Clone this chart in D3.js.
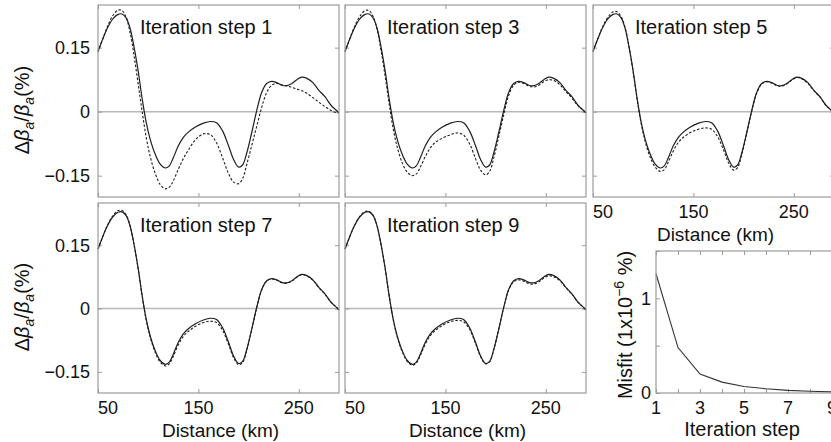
<!DOCTYPE html>
<html>
<head>
<meta charset="utf-8">
<script src="https://cdn.jsdelivr.net/npm/d3@7"></script>
<style>
  body { margin: 0; background: #fff; }
  svg { display: block; font-family: "Liberation Sans", Arial, Helvetica, sans-serif; }
</style>
</head>
<body>
<svg id="chart" width="831" height="442"></svg>
<script>
// distance grid shared by every profile (km)
var distanceKm = [50, 55, 60, 65, 70, 74, 78, 82, 86, 90, 94, 98, 102, 107, 112, 117, 121, 125, 130, 135,
  140, 147, 155, 162, 168, 174, 180, 185, 190, 194, 198, 203, 208, 213, 218, 223, 228, 233, 238, 243,
  248, 253, 258, 264, 270, 276, 282, 287, 290];

// true model (solid line)
var trueModel = [0.141, 0.172, 0.199, 0.218, 0.228, 0.229, 0.220, 0.195, 0.150, 0.095, 0.030, -0.025, -0.065, -0.100, -0.123, -0.132, -0.127, -0.108, -0.080, -0.060,
  -0.048, -0.036, -0.027, -0.023, -0.026, -0.045, -0.080, -0.112, -0.130, -0.125, -0.098, -0.050, 0.002, 0.045, 0.066, 0.071, 0.068, 0.062, 0.061, 0.066,
  0.075, 0.081, 0.078, 0.068, 0.050, 0.035, 0.015, 0.004, -0.003];

// inverted model after each iteration step (dashed line)
var step1 = [0.140, 0.172, 0.203, 0.226, 0.238, 0.237, 0.221, 0.185, 0.130, 0.065, 0.000, -0.060, -0.105, -0.145, -0.171, -0.181, -0.177, -0.162, -0.135, -0.110,
  -0.090, -0.066, -0.052, -0.054, -0.073, -0.108, -0.145, -0.165, -0.169, -0.157, -0.125, -0.080, -0.035, 0.010, 0.045, 0.062, 0.066, 0.063, 0.060, 0.057,
  0.053, 0.049, 0.043, 0.033, 0.022, 0.012, 0.003, -0.002, -0.003];
var step3 = [0.140, 0.172, 0.202, 0.224, 0.237, 0.237, 0.223, 0.192, 0.142, 0.083, 0.018, -0.040, -0.083, -0.120, -0.142, -0.150, -0.146, -0.130, -0.105, -0.085,
  -0.072, -0.062, -0.054, -0.050, -0.055, -0.075, -0.110, -0.137, -0.148, -0.140, -0.110, -0.060, -0.008, 0.038, 0.062, 0.069, 0.066, 0.060, 0.058, 0.062,
  0.070, 0.075, 0.073, 0.063, 0.047, 0.032, 0.014, 0.004, -0.003];
var step5 = [0.141, 0.172, 0.201, 0.222, 0.234, 0.234, 0.223, 0.197, 0.150, 0.093, 0.028, -0.028, -0.070, -0.107, -0.130, -0.140, -0.136, -0.118, -0.092, -0.072,
  -0.060, -0.049, -0.041, -0.038, -0.041, -0.058, -0.090, -0.120, -0.137, -0.131, -0.102, -0.052, 0.000, 0.043, 0.065, 0.070, 0.067, 0.061, 0.060, 0.065,
  0.074, 0.080, 0.077, 0.066, 0.049, 0.034, 0.015, 0.004, -0.003];
var step7 = [0.141, 0.172, 0.200, 0.220, 0.232, 0.232, 0.222, 0.196, 0.150, 0.094, 0.029, -0.027, -0.068, -0.104, -0.127, -0.136, -0.131, -0.113, -0.086, -0.066,
  -0.054, -0.042, -0.033, -0.030, -0.033, -0.051, -0.085, -0.116, -0.133, -0.128, -0.100, -0.051, 0.001, 0.044, 0.065, 0.070, 0.067, 0.061, 0.060, 0.065,
  0.074, 0.080, 0.077, 0.067, 0.049, 0.034, 0.015, 0.004, -0.003];
var step9 = [0.141, 0.172, 0.199, 0.219, 0.230, 0.230, 0.221, 0.195, 0.150, 0.095, 0.030, -0.026, -0.067, -0.102, -0.125, -0.134, -0.129, -0.111, -0.084, -0.064,
  -0.052, -0.040, -0.031, -0.028, -0.031, -0.049, -0.083, -0.114, -0.131, -0.126, -0.099, -0.050, 0.002, 0.044, 0.064, 0.068, 0.065, 0.059, 0.058, 0.063,
  0.072, 0.078, 0.075, 0.066, 0.049, 0.034, 0.015, 0.004, -0.003];

var distanceTicks = [50, 150, 250];
var betaTicks = [-0.15, 0, 0.15];

// misfit per iteration (x1e-6 %)
var misfitSteps = [1, 2, 3, 4, 5, 6, 7, 8, 9];
var misfitValues = [1.26, 0.48, 0.20, 0.115, 0.068, 0.045, 0.028, 0.018, 0.012];
var misfitXTicks = [1, 2, 3, 4, 5, 6, 7, 8, 9, 10];
var misfitXLabels = [1, 3, 5, 7, 9];
var misfitYTicks = [0, 0.5, 1, 1.5];
var misfitYLabels = [0, 1];

var svg = d3.select('#chart');
var frameColor = '#9c9c9c';
var lineColor = '#1e1e1e';

// panel placement (left, top, height) -- columns share one width
var panelW = 241;
var panels = [
  { step: 1, values: step1, left: 98,  top: 5,   h: 192, showX: false, showY: true },
  { step: 3, values: step3, left: 345, top: 5,   h: 192, showX: false, showY: false },
  { step: 5, values: step5, left: 593, top: 5,   h: 192, showX: true,  showY: false },
  { step: 7, values: step7, left: 98,  top: 203, h: 190, showX: true,  showY: true },
  { step: 9, values: step9, left: 345, top: 203, h: 190, showX: true,  showY: false }
];

function ylabelBeta(g, cx, cy) {
  var t = g.append('text')
    .attr('transform', 'translate(' + cx + ',' + cy + ') rotate(-90)')
    .attr('text-anchor', 'middle')
    .attr('font-size', 20)
    .attr('fill', '#111');
  t.append('tspan').text('Δ');
  t.append('tspan').attr('font-style', 'italic').text('β');
  t.append('tspan').attr('font-style', 'italic').attr('font-size', 14).attr('dy', 5).text('a');
  t.append('tspan').attr('dy', -5).text('/');
  t.append('tspan').attr('font-style', 'italic').text('β');
  t.append('tspan').attr('font-style', 'italic').attr('font-size', 14).attr('dy', 5).text('a');
  t.append('tspan').attr('dy', -5).text('(%)');
}

panels.forEach(function(p) {
  var x = d3.scaleLinear().domain([50, 290]).range([p.left, p.left + panelW]);
  var y = d3.scaleLinear().domain([-0.2, 0.25]).range([p.top + p.h, p.top]);
  var g = svg.append('g');

  // zero line
  g.append('line')
    .attr('x1', p.left).attr('x2', p.left + panelW)
    .attr('y1', y(0)).attr('y2', y(0))
    .attr('stroke', '#b8b8b8').attr('stroke-width', 1.5);

  // inward ticks on all four sides
  var tickLen = 4;
  g.append('g').attr('transform', 'translate(0,' + (p.top + p.h) + ')')
    .call(d3.axisTop(x).tickValues(distanceTicks).tickSize(tickLen).tickFormat(''));
  g.append('g').attr('transform', 'translate(0,' + p.top + ')')
    .call(d3.axisBottom(x).tickValues(distanceTicks).tickSize(tickLen).tickFormat(''));
  g.append('g').attr('transform', 'translate(' + p.left + ',0)')
    .call(d3.axisRight(y).tickValues(betaTicks).tickSize(tickLen).tickFormat(''));
  g.append('g').attr('transform', 'translate(' + (p.left + panelW) + ',0)')
    .call(d3.axisLeft(y).tickValues(betaTicks).tickSize(tickLen).tickFormat(''));
  g.selectAll('.domain').remove();
  g.selectAll('.tick line').attr('stroke', frameColor);

  var line = d3.line()
    .x(function(d, i) { return x(distanceKm[i]); })
    .y(function(d) { return y(d); })
    .curve(d3.curveCatmullRom.alpha(0.5));

  g.append('path').datum(p.values)
    .attr('d', line)
    .attr('fill', 'none').attr('stroke', lineColor)
    .attr('stroke-width', 1.1).attr('stroke-dasharray', '2.5,1.8');
  g.append('path').datum(trueModel)
    .attr('d', line)
    .attr('fill', 'none').attr('stroke', lineColor).attr('stroke-width', 1.2);

  // frame
  g.append('rect')
    .attr('x', p.left).attr('y', p.top)
    .attr('width', panelW).attr('height', p.h)
    .attr('fill', 'none').attr('stroke', frameColor).attr('stroke-width', 1.2);

  g.append('text')
    .attr('x', p.left + 42).attr('y', p.top + 29)
    .attr('font-size', 20).attr('fill', '#111')
    .text('Iteration step ' + p.step);

  if (p.showY) {
    g.selectAll('.ylab').data(betaTicks).enter().append('text')
      .attr('x', p.left - 8).attr('y', function(d) { return y(d); })
      .attr('dy', '0.35em')
      .attr('text-anchor', 'end')
      .attr('font-size', 18).attr('fill', '#111')
      .text(function(d) { return d === 0 ? '0' : d3.format('.2f')(d); });
    ylabelBeta(g, 29, p.top + p.h / 2 + 9);
  }
  if (p.showX) {
    var by = p.top + p.h;
    g.selectAll('.xlab').data(distanceTicks).enter().append('text')
      .attr('x', function(d) { return x(d); })
      .attr('y', by + 21)
      .attr('text-anchor', function(d, i) { return i === 0 ? 'start' : 'middle'; })
      .attr('font-size', 18).attr('fill', '#111')
      .text(function(d) { return d; });
    g.append('text')
      .attr('x', p.left + panelW / 2 + 2).attr('y', by + 44)
      .attr('text-anchor', 'middle')
      .attr('font-size', 19).attr('fill', '#111')
      .text('Distance (km)');
  }
});

// misfit panel
var mLeft = 656, mTop = 251, mBottom = 393, mRight = 854;
var mx = d3.scaleLinear().domain([1, 10]).range([mLeft, mRight]);
var my = d3.scaleLinear().domain([0, 1.5]).range([mBottom, mTop]);
var mg = svg.append('g');

mg.append('g').attr('transform', 'translate(0,' + mBottom + ')')
  .call(d3.axisTop(mx).tickValues(misfitXTicks).tickSize(4).tickFormat(''));
mg.append('g').attr('transform', 'translate(0,' + mTop + ')')
  .call(d3.axisBottom(mx).tickValues(misfitXTicks).tickSize(4).tickFormat(''));
mg.append('g').attr('transform', 'translate(' + mLeft + ',0)')
  .call(d3.axisRight(my).tickValues(misfitYTicks).tickSize(4).tickFormat(''));
mg.selectAll('.domain').remove();
mg.selectAll('.tick line').attr('stroke', frameColor);

mg.append('path').datum(misfitValues)
  .attr('d', d3.line()
    .x(function(d, i) { return mx(misfitSteps[i]); })
    .y(function(d) { return my(d); }))
  .attr('fill', 'none').attr('stroke', '#333').attr('stroke-width', 1.1);

mg.append('rect')
  .attr('x', mLeft).attr('y', mTop)
  .attr('width', mRight - mLeft).attr('height', mBottom - mTop)
  .attr('fill', 'none').attr('stroke', frameColor).attr('stroke-width', 1.2);

mg.selectAll('.mxl').data(misfitXLabels).enter().append('text')
  .attr('x', function(d) { return mx(d); }).attr('y', mBottom + 21)
  .attr('text-anchor', 'middle').attr('font-size', 18).attr('fill', '#111')
  .text(function(d) { return d; });
mg.selectAll('.myl').data(misfitYLabels).enter().append('text')
  .attr('x', mLeft - 5).attr('y', function(d) { return my(d); })
  .attr('dy', '0.35em')
  .attr('text-anchor', 'end').attr('font-size', 18).attr('fill', '#111')
  .text(function(d) { return d; });

mg.append('text')
  .attr('x', 742).attr('y', 436)
  .attr('text-anchor', 'middle').attr('font-size', 20).attr('fill', '#111')
  .text('Iteration step');

var ml = mg.append('text')
  .attr('transform', 'translate(632,325) rotate(-90)')
  .attr('text-anchor', 'middle').attr('font-size', 20).attr('fill', '#111');
ml.append('tspan').text('Misfit (1x10');
ml.append('tspan').attr('font-size', 14).attr('dy', -8).text('−6');
ml.append('tspan').attr('dy', 8).text(' %)');
</script>
</body>
</html>
